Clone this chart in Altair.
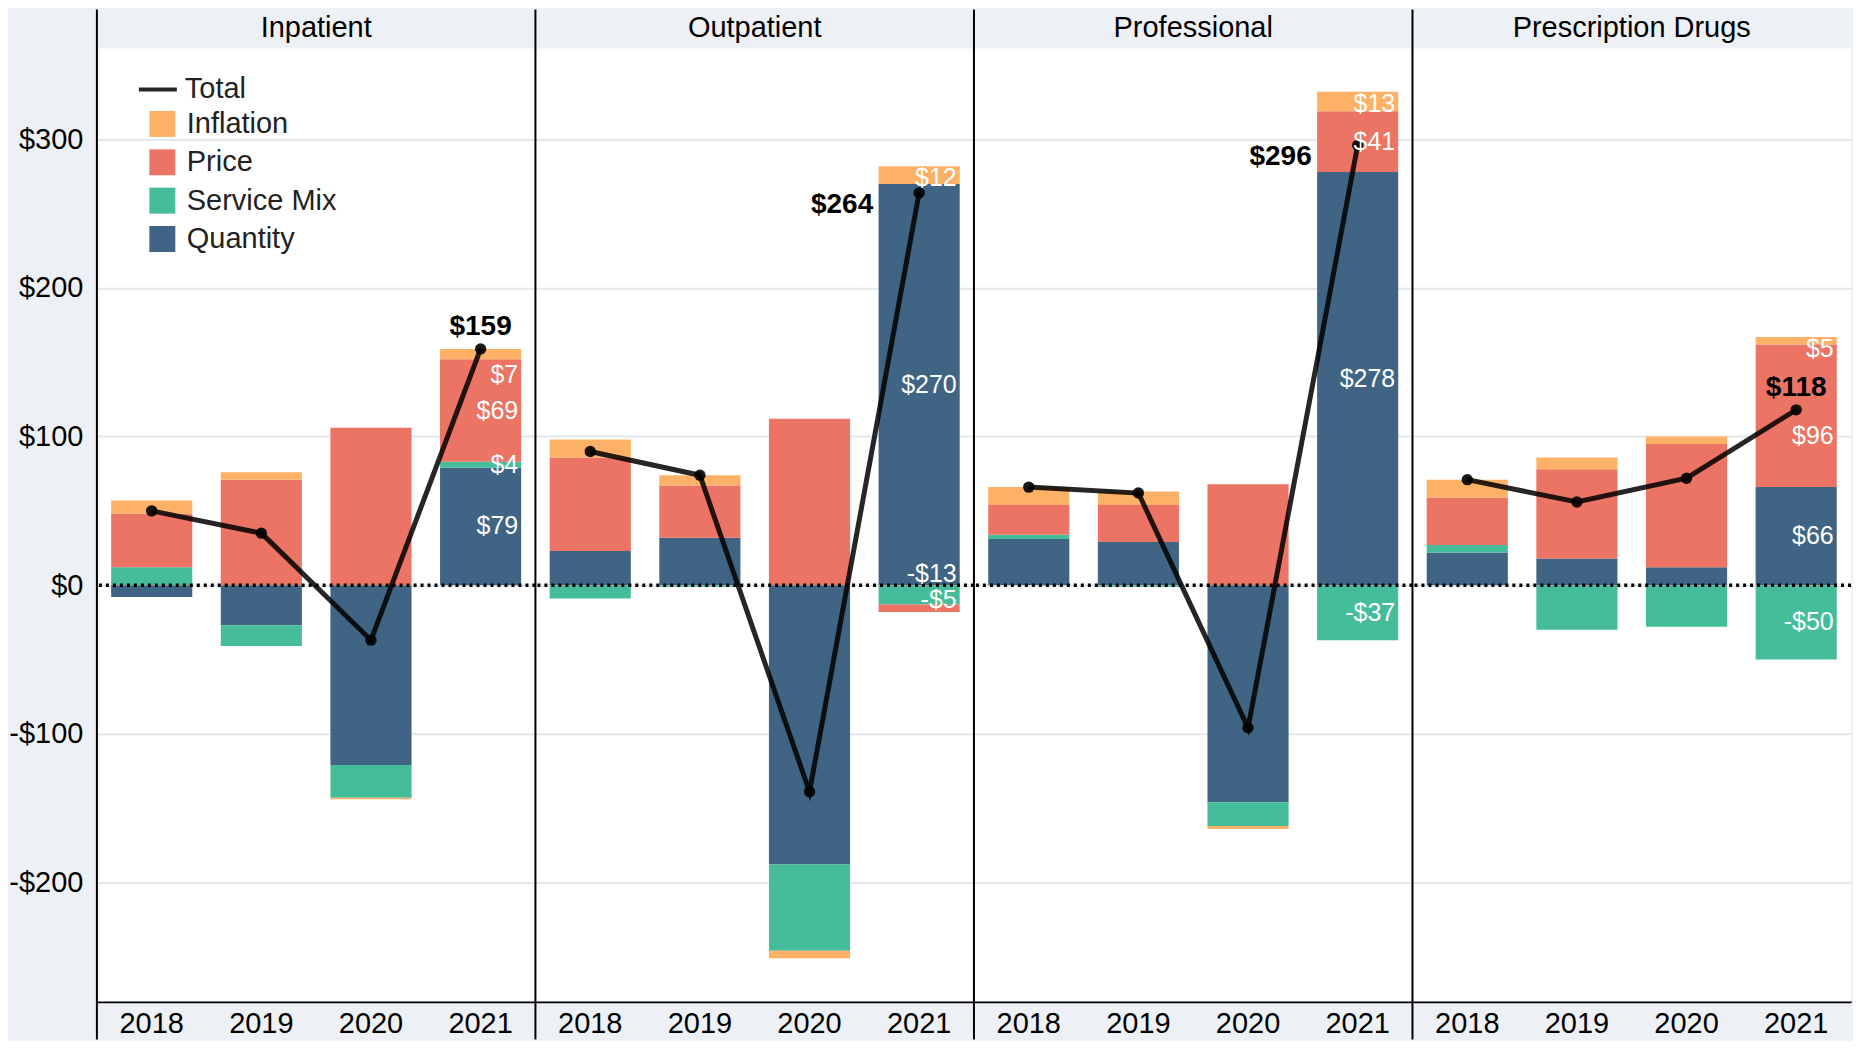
import altair as alt
import pandas as pd

# ---------------- data ----------------
categories = ["Inpatient", "Outpatient", "Professional", "Prescription Drugs"]
years = ["2018", "2019", "2020", "2021"]
legend_order = ["Inflation", "Price", "Service Mix", "Quantity"]
stack_order = ["Quantity", "Service Mix", "Price", "Inflation"]
colors = ["#FDAE61", "#EA705F", "#3FBB98", "#3A5F7F"]

quantity = {
    "Inpatient": [-8, -27, -121, 79],
    "Outpatient": [23, 32, -188, 270],
    "Professional": [31, 29, -146, 278],
    "Prescription Drugs": [22, 18, 12, 66],
}
service_mix = {
    "Inpatient": [12, -14, -22, 4],
    "Outpatient": [-9, -1, -58, -13],
    "Professional": [3, -1, -16, -37],
    "Prescription Drugs": [5, -30, -28, -50],
}
price = {
    "Inpatient": [36, 71, 106, 69],
    "Outpatient": [63, 35, 112, -5],
    "Professional": [20, 25, 68, 41],
    "Prescription Drugs": [32, 60, 83, 96],
}
inflation = {
    "Inpatient": [9, 5, -1, 7],
    "Outpatient": [12, 7, -5, 12],
    "Professional": [12, 9, -2, 13],
    "Prescription Drugs": [12, 8, 5, 5],
}
total = {
    "Inpatient": [50, 35, -37, 159],
    "Outpatient": [90, 74, -139, 264],
    "Professional": [66, 62, -96, 296],
    "Prescription Drugs": [71, 56, 72, 118],
}
labeled_year = "2021"

# ---------------- layout constants ----------------
W = 439          # each panel
H = 954          # plot height
HDR = 40         # header strip height
FS = 29          # main font size
FONT = "Liberation Sans"
series_by_comp = {"Quantity": quantity, "Service Mix": service_mix,
                  "Price": price, "Inflation": inflation}


def money(v):
    return ("-$" if v < 0 else "$") + str(abs(int(round(v))))


# stack every bar (positives and negatives separately, Quantity nearest zero)
stacks = {}
for c in categories:
    for i, yr in enumerate(years):
        pos = neg = 0.0
        segs = []
        for comp in stack_order:
            v = series_by_comp[comp][c][i]
            if v >= 0:
                y0, y1 = pos, pos + v
                pos += v
            else:
                y0, y1 = neg, neg + v
                neg += v
            segs.append((comp, v, y0, y1))
        stacks[(c, yr)] = (segs, pos, neg)

hi = max(s[1] for s in stacks.values())
lo = min(s[2] for s in stacks.values())
rng = hi - lo
y_dom = [lo - 0.05 * rng, hi + 0.05 * rng]
ppu = H / (y_dom[1] - y_dom[0])


def place_labels(mids, fixed, lo_b, hi_b, gap, iters=400):
    ys = list(mids)
    for _ in range(iters):
        order = sorted(range(len(ys)), key=lambda k: -ys[k])
        for a, b in zip(order, order[1:]):
            d = ys[a] - ys[b]
            if d < gap:
                p = (gap - d) / 2
                ys[a] += p
                ys[b] -= p
        for f in fixed:
            for k in range(len(ys)):
                d = ys[k] - f
                if abs(d) < gap:
                    ys[k] = f + gap if d >= 0 else f - gap
        ys = [min(max(y, lo_b), hi_b) for y in ys]
    return ys


rows = []
for c in categories:
    rows.append(dict(cat=c, kind="frame", zy=0.0))
    for i, yr in enumerate(years):
        segs, pos, neg = stacks[(c, yr)]
        t = total[c][i]
        side = "left" if t > 200 else "above"
        rows.append(dict(cat=c, year=yr, kind="total", total=t,
                         tlabel=money(t) if yr == labeled_year else "",
                         side=side, series="Total"))
        for comp, v, y0, y1 in segs:
            rows.append(dict(cat=c, year=yr, kind="bar", comp=comp, value=v,
                             y0=y0, y1=y1))
        if yr == labeled_year:
            mids = [(s[2] + s[3]) / 2 for s in segs]
            # the total's dot and its label sit inside the bar when shown above
            fixed = [t, t + 22 / ppu] if side == "above" else []
            half = 12 / ppu
            ys = place_labels(mids, fixed, neg + half, pos - half, 26 / ppu)
            for (comp, v, y0, y1), ly in zip(segs, ys):
                rows.append(dict(cat=c, year=yr, kind="label", comp=comp,
                                 ly=ly, text=money(v)))

df = pd.DataFrame(rows)

# ---------------- encodings ----------------
x_enc = alt.X("year:N", sort=years,
              scale=alt.Scale(paddingInner=0.26, paddingOuter=0.13),
              axis=alt.Axis(title=None, labelAngle=0, labelFontSize=FS,
                            labelColor="black", labelFont=FONT, ticks=False,
                            domainColor="black", domainWidth=2.5,
                            labelPadding=8))
y_scale = alt.Scale(domain=y_dom, nice=False, zero=False)
y_axis = alt.Axis(title=None, values=[-200, -100, 0, 100, 200, 300],
                  labelExpr="datum.value < 0 ? '-$' + format(-datum.value, 'd') : '$' + format(datum.value, 'd')",
                  labelFontSize=FS, labelColor="black", labelFont=FONT,
                  grid=True, gridColor="#E4E8EE", gridWidth=2,
                  domain=False, ticks=False, labelPadding=14)

base = alt.Chart()

bars = base.mark_bar(opacity=0.97).encode(
    x=x_enc,
    y=alt.Y("y0:Q", scale=y_scale, axis=y_axis),
    y2="y1:Q",
    fill=alt.Fill("comp:N", scale=alt.Scale(domain=legend_order, range=colors),
                  legend=alt.Legend(title=None, orient="none", legendX=51,
                                    legendY=61, symbolType="square",
                                    symbolSize=676, symbolStrokeWidth=0,
                                    labelFontSize=FS, labelFont=FONT,
                                    labelColor="#222222", labelOffset=10,
                                    rowPadding=8.4)),
).transform_filter(alt.datum.kind == "bar")

zero = base.mark_rule(color="black", strokeDash=[3, 4], strokeWidth=3.5).encode(
    y=alt.Y("zy:Q", scale=y_scale)
).transform_filter(alt.datum.kind == "frame")

border = base.mark_rule(color="black", strokeWidth=2).encode(
    x=alt.value(0), y=alt.value(-HDR + 1), y2=alt.value(H + 38)
).transform_filter(alt.datum.kind == "frame")

line = base.mark_line(strokeWidth=5, opacity=0.85).encode(
    x=alt.X("year:N", sort=years),
    y=alt.Y("total:Q", scale=y_scale),
    stroke=alt.Stroke("series:N", scale=alt.Scale(domain=["Total"], range=["black"]),
                      legend=alt.Legend(title=None, orient="none", legendX=40,
                                        legendY=20, symbolType="stroke",
                                        symbolSize=1444, symbolStrokeWidth=4,
                                        labelFontSize=FS, labelFont=FONT,
                                        labelColor="#222222", labelOffset=6)),
).transform_filter(alt.datum.kind == "total")

points = base.mark_circle(size=130, color="black", opacity=0.9).encode(
    x=alt.X("year:N", sort=years),
    y=alt.Y("total:Q", scale=y_scale),
).transform_filter(alt.datum.kind == "total")

seg_labels = base.mark_text(align="right", baseline="middle", dx=-3,
                            color="white", fontSize=25, font=FONT).encode(
    x=alt.X("year:N", sort=years, bandPosition=1),
    y=alt.Y("ly:Q", scale=y_scale),
    text="text:N",
).transform_filter(alt.datum.kind == "label")

tot_above = base.mark_text(align="center", baseline="middle", dy=-22,
                           fontSize=28, fontWeight="bold", color="black",
                           font=FONT).encode(
    x=alt.X("year:N", sort=years),
    y=alt.Y("total:Q", scale=y_scale),
    text="tlabel:N",
).transform_filter((alt.datum.kind == "total") & (alt.datum.side == "above"))

tot_left = base.mark_text(align="right", baseline="middle", dx=-46, dy=12,
                          fontSize=28, fontWeight="bold", color="black",
                          font=FONT).encode(
    x=alt.X("year:N", sort=years),
    y=alt.Y("total:Q", scale=y_scale),
    text="tlabel:N",
).transform_filter((alt.datum.kind == "total") & (alt.datum.side == "left"))

layered = alt.layer(bars, zero, line, points, seg_labels, tot_above, tot_left,
                    border).properties(width=W, height=H)

chart = layered.facet(
    column=alt.Column("cat:N", sort=categories, title=None,
                      header=alt.Header(labelFontSize=FS, labelColor="black",
                                        labelFont=FONT, labelPadding=6)),
    data=df,
    spacing=0,
    bounds="flush",
).properties(
    padding=0, background="#EDF1F5"
).configure(
    font=FONT
).configure_view(
    fill="white", strokeWidth=0
)

chart.save("out.html", embed_options={"renderer": "svg", "actions": False})
